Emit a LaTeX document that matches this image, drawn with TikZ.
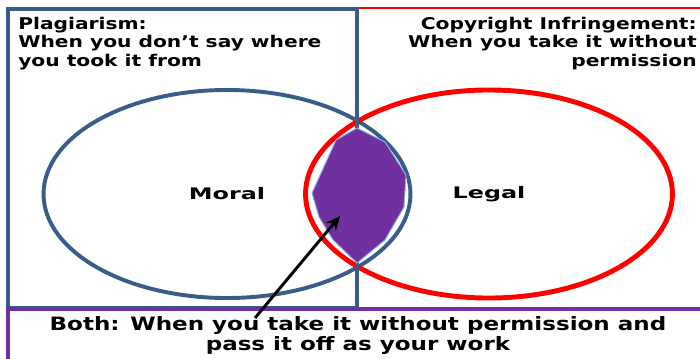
\documentclass[tikz,border=0pt]{standalone}
\usepackage{fontspec}
\setmainfont{DejaVu Sans}
\newfontfamily\boxfont{DejaVu Sans}[FakeStretch=1.25]
\newfontfamily\setfont{DejaVu Sans}[FakeStretch=1.5]
\usepackage{tikz}
\usetikzlibrary{arrows.meta,shapes.geometric}
\definecolor{moralblue}{HTML}{385D8A}
\definecolor{legalred}{HTML}{FF0000}
\definecolor{bothpurple}{HTML}{7030A0}
\definecolor{edgeblue}{HTML}{8EB4E3}

\begin{document}
\begin{tikzpicture}[
x=0.025cm, y=-0.025cm,
setring/.style={ellipse, draw, minimum width=9.17cm, minimum height=5.2cm, inner sep=0pt, font=\setfont\bfseries\fontsize{11.3pt}{13pt}\selectfont},
heading/.style={inner sep=0pt, font=\boxfont\bfseries\fontsize{11.5pt}{13.1pt}\selectfont},
panel/.style={line width=2.8pt},
pointer/.style={-{Stealth[length=10pt,width=9pt]}, line width=2.1pt, black}
]
\clip (0,0) rectangle (700,358);

% --- The two sets ---
\node (moral) [setring, moralblue, line width=2.8pt, text=black] at (227,194) {Moral};
\node (legal) [setring, legalred, line width=3.5pt, text=black] at (489,194) {Legal};

% --- Panels ---
\draw [legalred, line width=2pt] (357,8) rectangle (760,308);
\draw [panel, moralblue] (8,9) rectangle (357,308);
\draw [panel, bothpurple] (8,309) rectangle (760,420);

% --- Overlap ---
\filldraw [fill=bothpurple, draw=edgeblue, line width=0.7pt]
  (357,128) -- (385,142) -- (406,175) -- (404,207) -- (385,240) -- (357,263)
  -- (333,240) -- (319,217) -- (312,193) -- (336,140) -- cycle;

% --- Texts ---
\node (plag) [heading, anchor=north west, align=left] at (18,17) {Plagiarism:\\When you don’t say where\\you took it from};
\node (copy) [heading, anchor=north east, align=right] at (697,17) {Copyright Infringement:\\When you take it without\\permission};
\node (both) [heading, anchor=north, align=center, font=\boxfont\bfseries\fontsize{13.1pt}{14.2pt}\selectfont] at (358,316) {Both: When you take it without permission and\\pass it off as your work};

% --- Pointer ---
\coordinate (tail) at (255,318);
\coordinate (tip) at (340,216);
\draw [pointer] (tail) -- (tip);

\end{tikzpicture}
\end{document}
